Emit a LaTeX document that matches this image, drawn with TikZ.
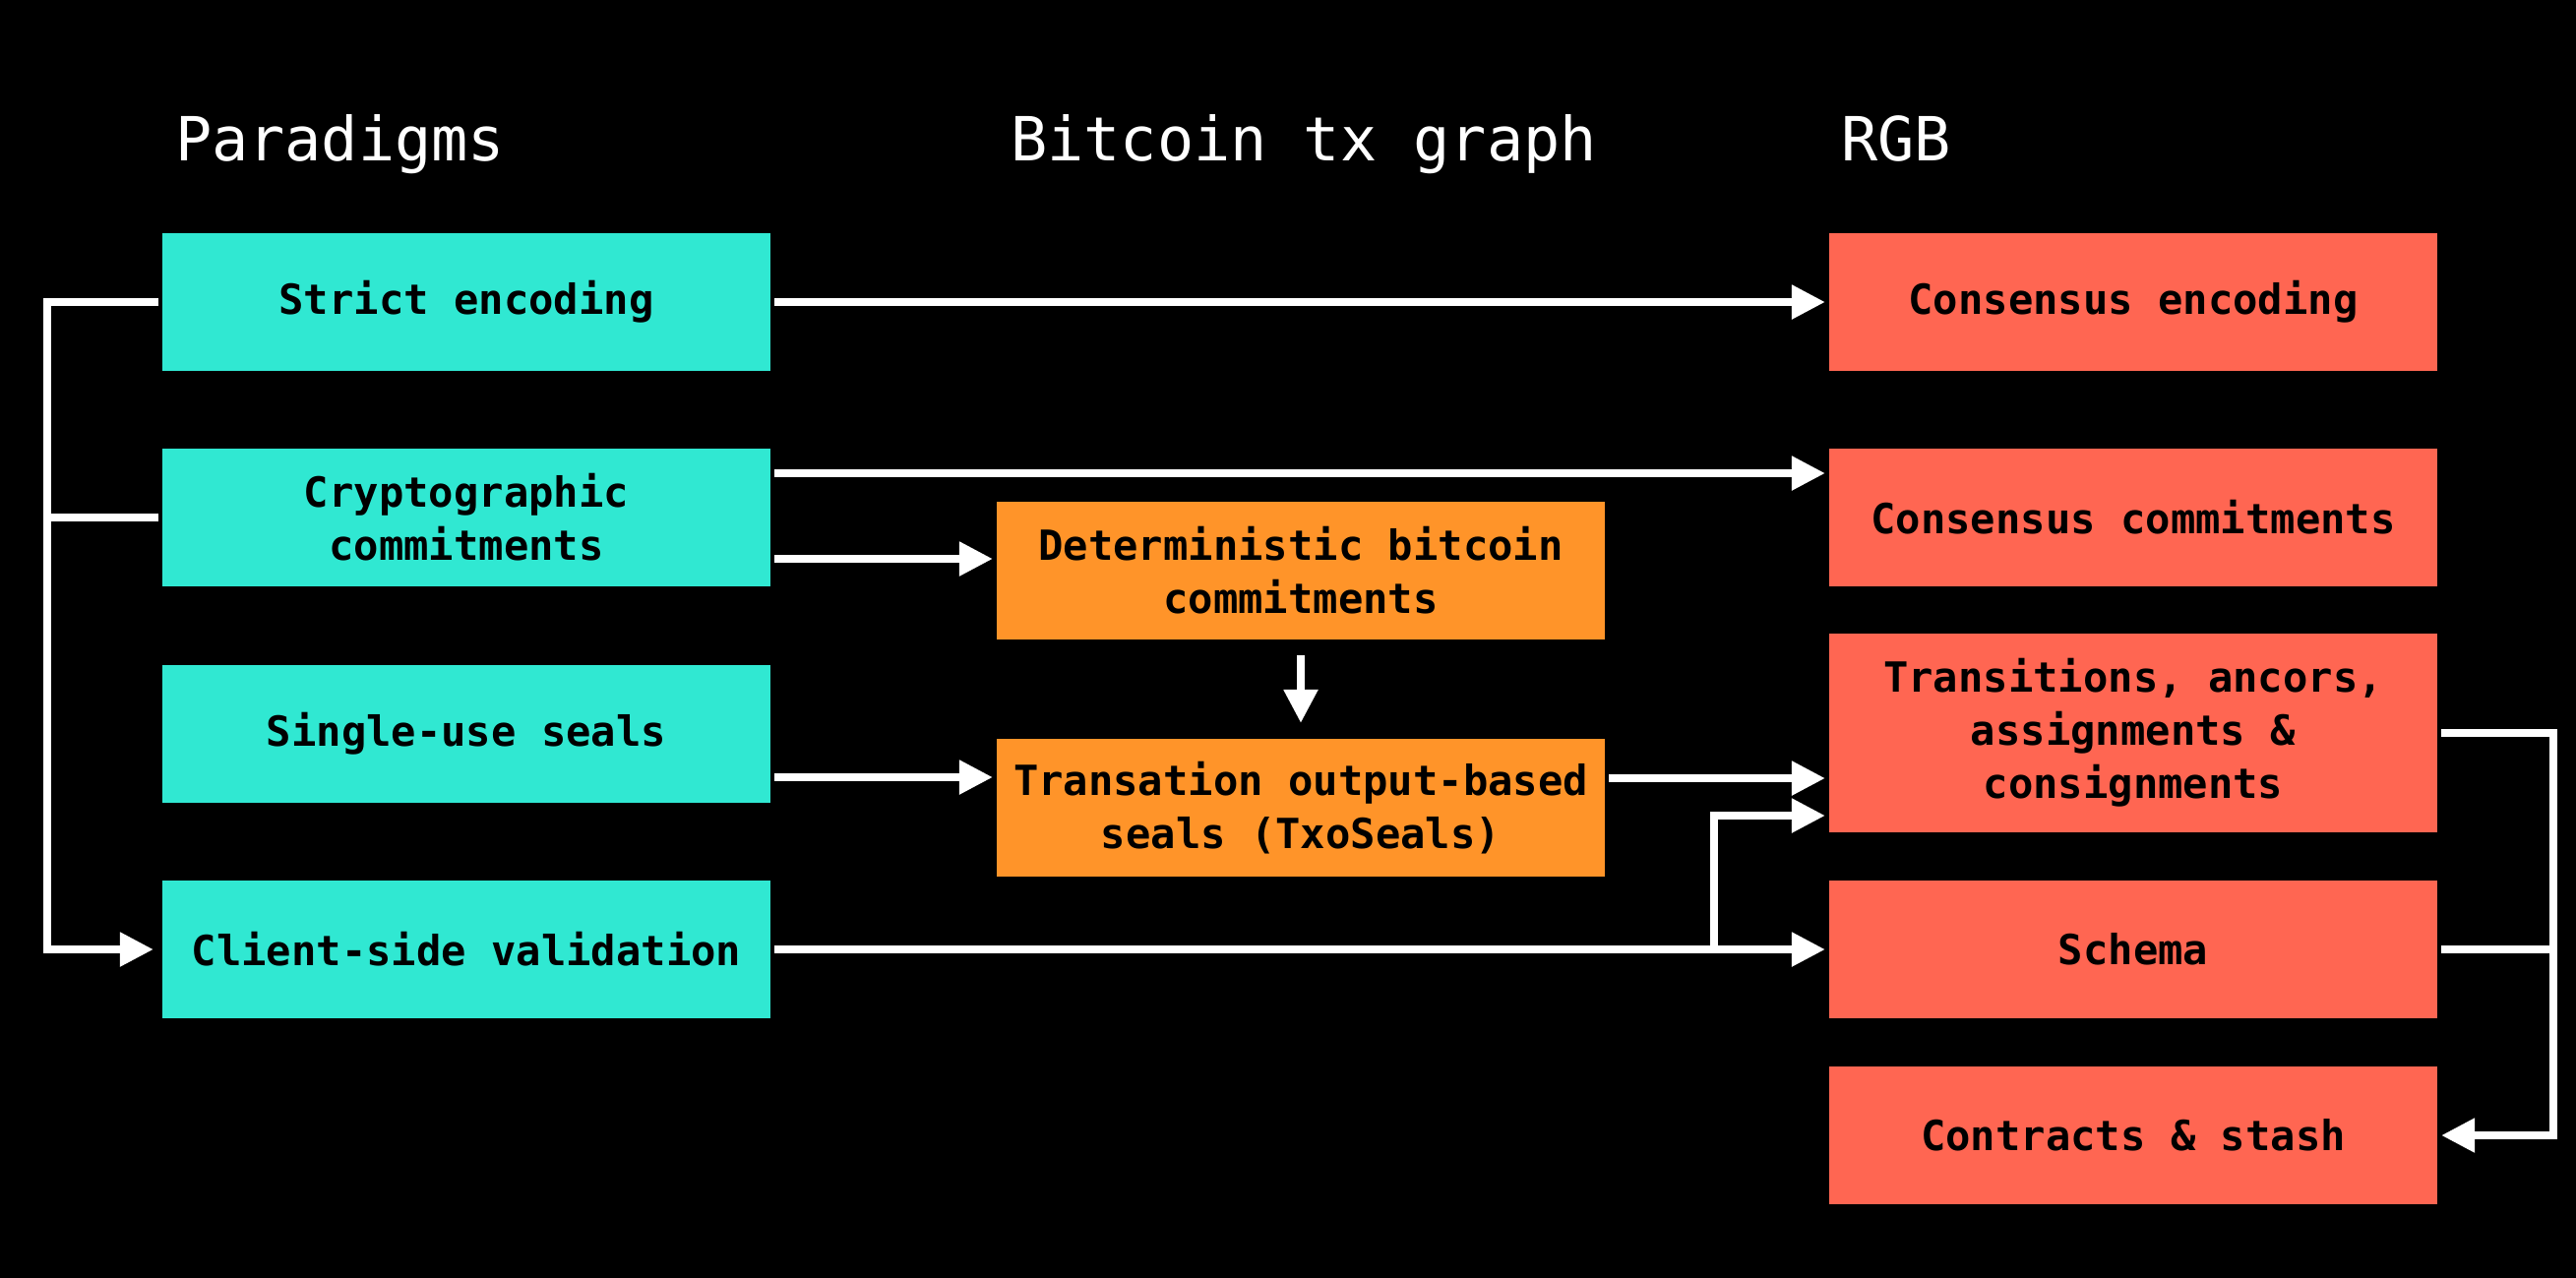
\documentclass[tikz,border=0pt]{standalone}
\usepackage{fontspec}
\setmainfont{DejaVu Sans Mono}
\usetikzlibrary{arrows.meta}

\definecolor{paracol}{HTML}{30E8D2}
\definecolor{btccol}{HTML}{FF9429}
\definecolor{rgbcol}{HTML}{FF6652}

\begin{document}
\begin{tikzpicture}[line width=2.3pt,
box/.style={inner sep=0pt, minimum width=6.18cm, minimum height=1.40cm, align=center, font=\fontsize{12}{15.4}\selectfont\bfseries, text=black},
paradigm/.style={box, fill=paracol},
btc/.style={box, fill=btccol},
rgb/.style={box, fill=rgbcol},
title/.style={anchor=base west, inner sep=0pt, text=white, font=\fontsize{17.6}{21}\selectfont},
link/.style={draw=white, -{Triangle[length=3.4mm,width=3.3mm]}},
line/.style={draw=white}]
\useasboundingbox (0,0) rectangle (26.18,-12.98);
\fill[black] (-0.2,0.2) rectangle (26.38,-13.18);

\node[title] (paratitle) at (1.74,-1.63) {Paradigms};
\node[title] (btctitle) at (10.23,-1.63) {Bitcoin tx graph};
\node[title] (rgbtitle) at (18.67,-1.63) {RGB};

% paradigms
\node[paradigm] (strict) at (4.74,-3.07) {Strict encoding};
\node[paradigm] (crypto) at (4.74,-5.26) {Cryptographic\\commitments};
\node[paradigm] (seals) at (4.74,-7.46) {Single-use seals};
\node[paradigm] (csv) at (4.74,-9.65) {Client-side validation};

% bitcoin tx graph
\node[btc] (dbc) at (13.22,-5.80) {Deterministic bitcoin\\commitments};
\node[btc] (txo) at (13.22,-8.21) {Transation output-based\\seals (TxoSeals)};

% rgb
\node[rgb] (enc) at (21.68,-3.07) {Consensus encoding};
\node[rgb] (comm) at (21.68,-5.26) {Consensus commitments};
\node[rgb, minimum height=2.02cm] (trans) at (21.68,-7.45) {Transitions, ancors,\\assignments \&\\consignments};
\node[rgb] (schema) at (21.68,-9.65) {Schema};
\node[rgb] (stash) at (21.68,-11.54) {Contracts \& stash};

\draw[link, shorten >=0.05cm] (strict.west) -- ++(-1.13,0) |- (csv.west);
\draw[line] (crypto.west) -- ++(-1.13,0);

\draw[link] (strict.east) -- (enc.west);
\draw[link] ([yshift=0.45cm]crypto.east) -- ([yshift=0.45cm]crypto.east -| comm.west);
\draw[link] ([yshift=-0.42cm]crypto.east) -- ([yshift=-0.42cm]crypto.east -| dbc.west);
\draw[link, shorten <=0.12cm, shorten >=0.12cm] (dbc.south) -- (txo.north);
\draw[link] ([yshift=-0.44cm]seals.east) -- ([yshift=-0.44cm]seals.east -| txo.west);
\draw[link] ([yshift=0.30cm]txo.east) -- ([yshift=0.30cm]txo.east -| trans.west);
\draw[link] (csv.east) -- coordinate[pos=0.894] (fork) (schema.west);
\draw[link] (fork) |- ([yshift=-0.84cm]trans.west);

\draw[link] (trans.east) -- ++(1.14,0) |- (stash.east);
\draw[line] (schema.east) -- ++(1.14,0);
\end{tikzpicture}
\end{document}
